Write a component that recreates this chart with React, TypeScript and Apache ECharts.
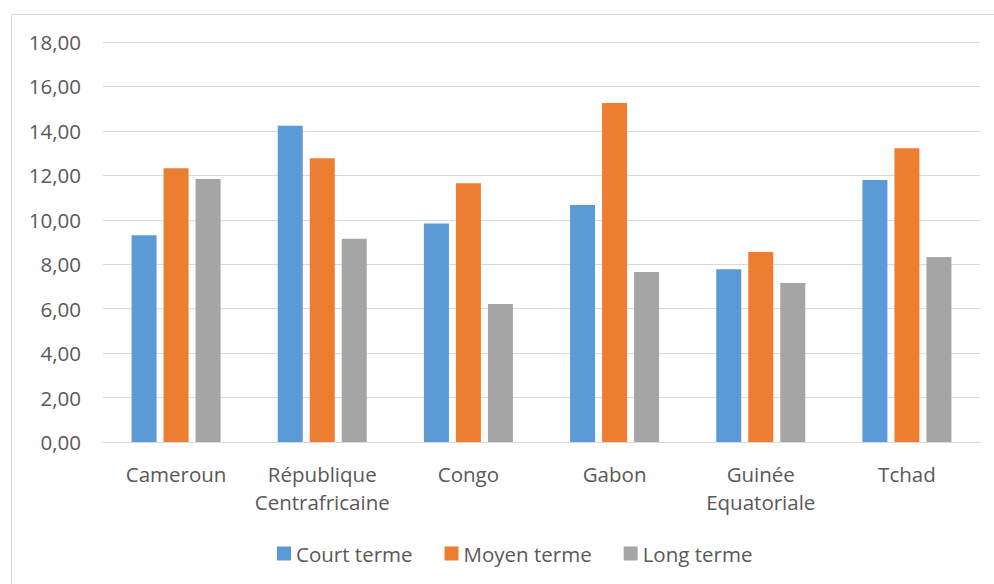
import React, { useEffect, useRef } from "react";
import * as echarts from "echarts";

const categories = ["Cameroun", "République\nCentrafricaine", "Congo", "Gabon", "Guinée\nEquatoriale", "Tchad"];
const seriesNames = ["Court terme", "Moyen terme", "Long terme"];
const courtTerme = [9.3, 14.23, 9.83, 10.67, 7.77, 11.79];
const moyenTerme = [12.32, 12.77, 11.64, 15.26, 8.55, 13.22];
const longTerme = [11.84, 9.15, 6.21, 7.65, 7.16, 8.33];
const colors = ["#5B9BD5", "#ED7D31", "#A5A5A5"];

const FONT = "'Open Sans', sans-serif";
const TEXT = "#595959";

export default function App() {
  const ref = useRef<HTMLDivElement>(null);
  useEffect(() => {
    if (!ref.current) return;
    const chart = echarts.init(ref.current, undefined, { renderer: "svg" });
    const values = [courtTerme, moyenTerme, longTerme];
    chart.setOption({
      animation: false,
      backgroundColor: "#ffffff",
      textStyle: { fontFamily: FONT },
      graphic: [
        {
          type: "rect",
          left: 9,
          top: 12,
          shape: { width: 1000, height: 600 },
          style: { fill: "none", stroke: "#D9D9D9", lineWidth: 1 },
          silent: true,
        },
      ],
      grid: { left: 103, right: 14, top: 42, bottom: 142, containLabel: false },
      legend: {
        bottom: 15,
        left: 272,
        itemWidth: 14,
        itemHeight: 14,
        itemGap: 32,
        icon: "rect",
        textStyle: { color: TEXT, fontSize: 20.5, fontFamily: FONT },
        data: seriesNames,
      },
      xAxis: {
        type: "category",
        data: categories,
        axisLine: { lineStyle: { color: "#D9D9D9", width: 1 } },
        axisTick: { show: false },
        axisLabel: { color: TEXT, fontSize: 20.5, fontFamily: FONT, margin: 18, lineHeight: 28, interval: 0 },
      },
      yAxis: {
        type: "value",
        min: 0,
        max: 18,
        interval: 2,
        axisLine: { show: false },
        axisTick: { show: false },
        splitLine: { lineStyle: { color: "#D9D9D9", width: 1 } },
        axisLabel: {
          color: TEXT,
          fontSize: 20.5,
          fontFamily: FONT,
          margin: 22,
          formatter: (v: number) => v.toFixed(2).replace(".", ","),
        },
      },
      series: seriesNames.map((name, i) => ({
        name,
        type: "bar",
        data: values[i],
        barWidth: 25,
        barGap: "28%",
        itemStyle: { color: colors[i] },
      })),
    });
    return () => chart.dispose();
  }, []);
  return <div ref={ref} style={{ position: "fixed", left: 0, top: 0, width: 994, height: 584 }} />;
}
